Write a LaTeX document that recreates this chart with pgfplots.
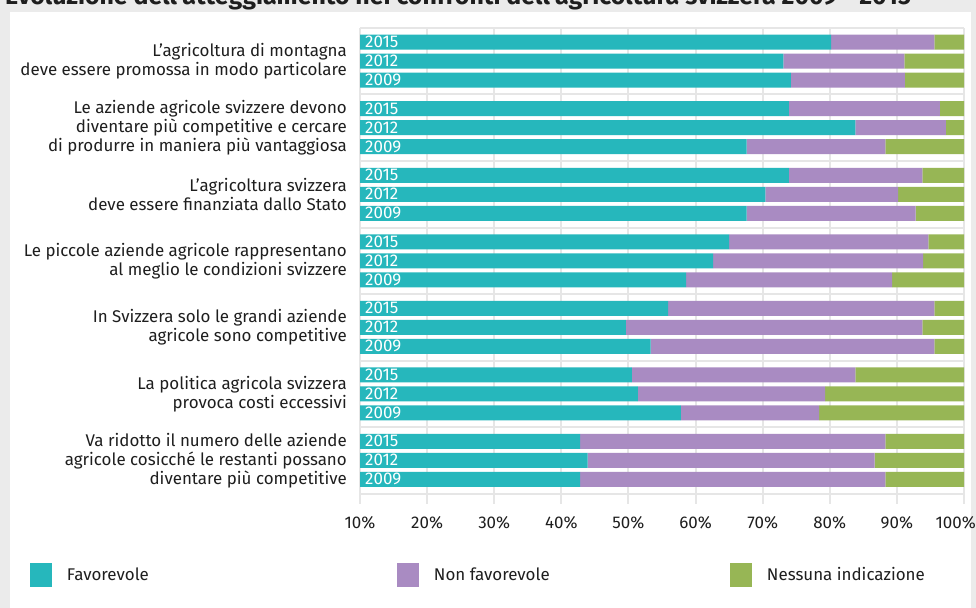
\documentclass[border=0pt]{standalone}
\usepackage{pgfplots}
\pgfplotsset{compat=1.18}
\usepackage{pgfplotstable}
\usepackage{fontspec}
\setmainfont{Fira Sans}
\definecolor{cteal}{HTML}{26B7BC}
\definecolor{cpurple}{HTML}{A98BC2}
\definecolor{cgreen}{HTML}{97B655}
\definecolor{bggray}{HTML}{EBEBEB}
\definecolor{gridgray}{HTML}{E6E6E6}
\definecolor{txt}{HTML}{1E1E1E}

\pgfplotstableread{
y     fav   non   nes
0     80.2  15.4  4.4
-1    73.1  18.0  8.9
-2    74.2  17.0  8.8
-3.5  73.9  22.5  3.6
-4.5  83.8  13.5  2.7
-5.5  67.6  20.7  11.7
-7    73.9  19.9  6.2
-8    70.4  19.8  9.8
-9    67.6  25.2  7.2
-10.5 65.0  29.7  5.3
-11.5 62.6  31.3  6.1
-12.5 58.6  30.7  10.7
-14   55.9  39.7  4.4
-15   49.6  44.2  6.2
-16   53.3  42.3  4.4
-17.5 50.5  33.3  16.2
-18.5 51.4  27.9  20.7
-19.5 57.8  20.6  21.6
-21   42.8  45.5  11.7
-22   43.9  42.8  13.3
-23   42.8  45.5  11.7
}\datatable

\begin{document}
\begin{tikzpicture}[x=1bp,y=1bp,
  yearlab/.style={anchor=west, text=white, inner sep=0pt, xshift=5bp, font=\fontsize{17}{19}\selectfont}]
\useasboundingbox (0,0) rectangle (976,608);
\fill[bggray] (0,0) rectangle (976,608);
\fill[white] (10,0) rectangle (971,596);
\node[anchor=base west, inner sep=0pt, font=\bfseries\fontsize{25}{30}\selectfont, text=txt] at (5,603) {Evoluzione dell’atteggiamento nei confronti dell’agricoltura svizzera 2009 - 2015};
\begin{axis}[
  at={(360bp,104bp)}, anchor=south west,
  scale only axis, width=604bp, height=476bp,
  xmin=10, xmax=100, ymin=-24.3, ymax=0.75,
  xbar stacked, bar width=15bp,
  axis line style={draw=none},
  major tick length=0pt,
  tick style={draw=none},
  xmajorgrids=true, ymajorgrids=false,
  major grid style={gridgray, line width=2bp},
  xtick={10,20,...,90},
  xticklabels={10\%,20\%,30\%,40\%,50\%,60\%,70\%,80\%,90\%},
  xticklabel style={anchor=base, inner sep=0pt, yshift=-25bp, font=\fontsize{17}{19}\selectfont, text=txt},
  extra x ticks={100},
  extra x tick labels={100\%},
  extra x tick style={grid=major, xticklabel style={anchor=base east, xshift=12bp}},
  extra y ticks={0.75,-2.75,-6.25,-9.75,-13.25,-16.75,-20.25,-23.75},
  extra y tick labels={},
  extra y tick style={grid=major},
  ytick={-1,-4.5,-8,-11.5,-15,-18.5,-22},
  yticklabels={
    {L’agricoltura di montagna\\deve essere promossa in modo particolare},
    {Le aziende agricole svizzere devono\\diventare più competitive e cercare\\di produrre in maniera più vantaggiosa},
    {L’agricoltura svizzera\\deve essere finanziata dallo Stato},
    {Le piccole aziende agricole rappresentano\\al meglio le condizioni svizzere},
    {In Svizzera solo le grandi aziende\\agricole sono competitive},
    {La politica agricola svizzera\\provoca costi eccessivi},
    {Va ridotto il numero delle aziende\\agricole cosicché le restanti possano\\diventare più competitive}},
  yticklabel style={align=right, anchor=east, inner sep=0pt, xshift=-13bp, font=\fontsize{17}{19}\selectfont, text=txt},
  legend columns=3,
  legend cell align=left,
  legend image code/.code={\fill[#1] (0bp,-12bp) rectangle (22bp,12bp);},
  legend style={at={(axis description cs:-0.5464,-0.149)}, anchor=west, draw=none, fill=none,
    inner sep=0pt, outer sep=0pt, column sep=0pt,
    nodes={inner sep=0pt}, font=\fontsize{17}{19}\selectfont, text=txt,
    /tikz/every odd column/.append style={column sep=15bp}},
]
\addplot[fill=cteal, draw=none] table[x=fav, y=y]{\datatable};
\addplot[fill=cpurple, draw=none] table[x=non, y=y]{\datatable};
\addplot[fill=cgreen, draw=none] table[x=nes, y=y]{\datatable};
\legend{\makebox[330bp][l]{Favorevole}, \makebox[296bp][l]{Non favorevole}, Nessuna indicazione}
\pgfplotsinvokeforeach{0,1,2,3,4,5,6}{
  \coordinate (ya#1) at (axis cs:10,{-3.5*#1});
  \coordinate (yb#1) at (axis cs:10,{-3.5*#1-1});
  \coordinate (yc#1) at (axis cs:10,{-3.5*#1-2});
}
\end{axis}
\foreach \g in {0,...,6} {
  \node[yearlab] at (ya\g) {2015};
  \node[yearlab] at (yb\g) {2012};
  \node[yearlab] at (yc\g) {2009};
}
\end{tikzpicture}
\end{document}
